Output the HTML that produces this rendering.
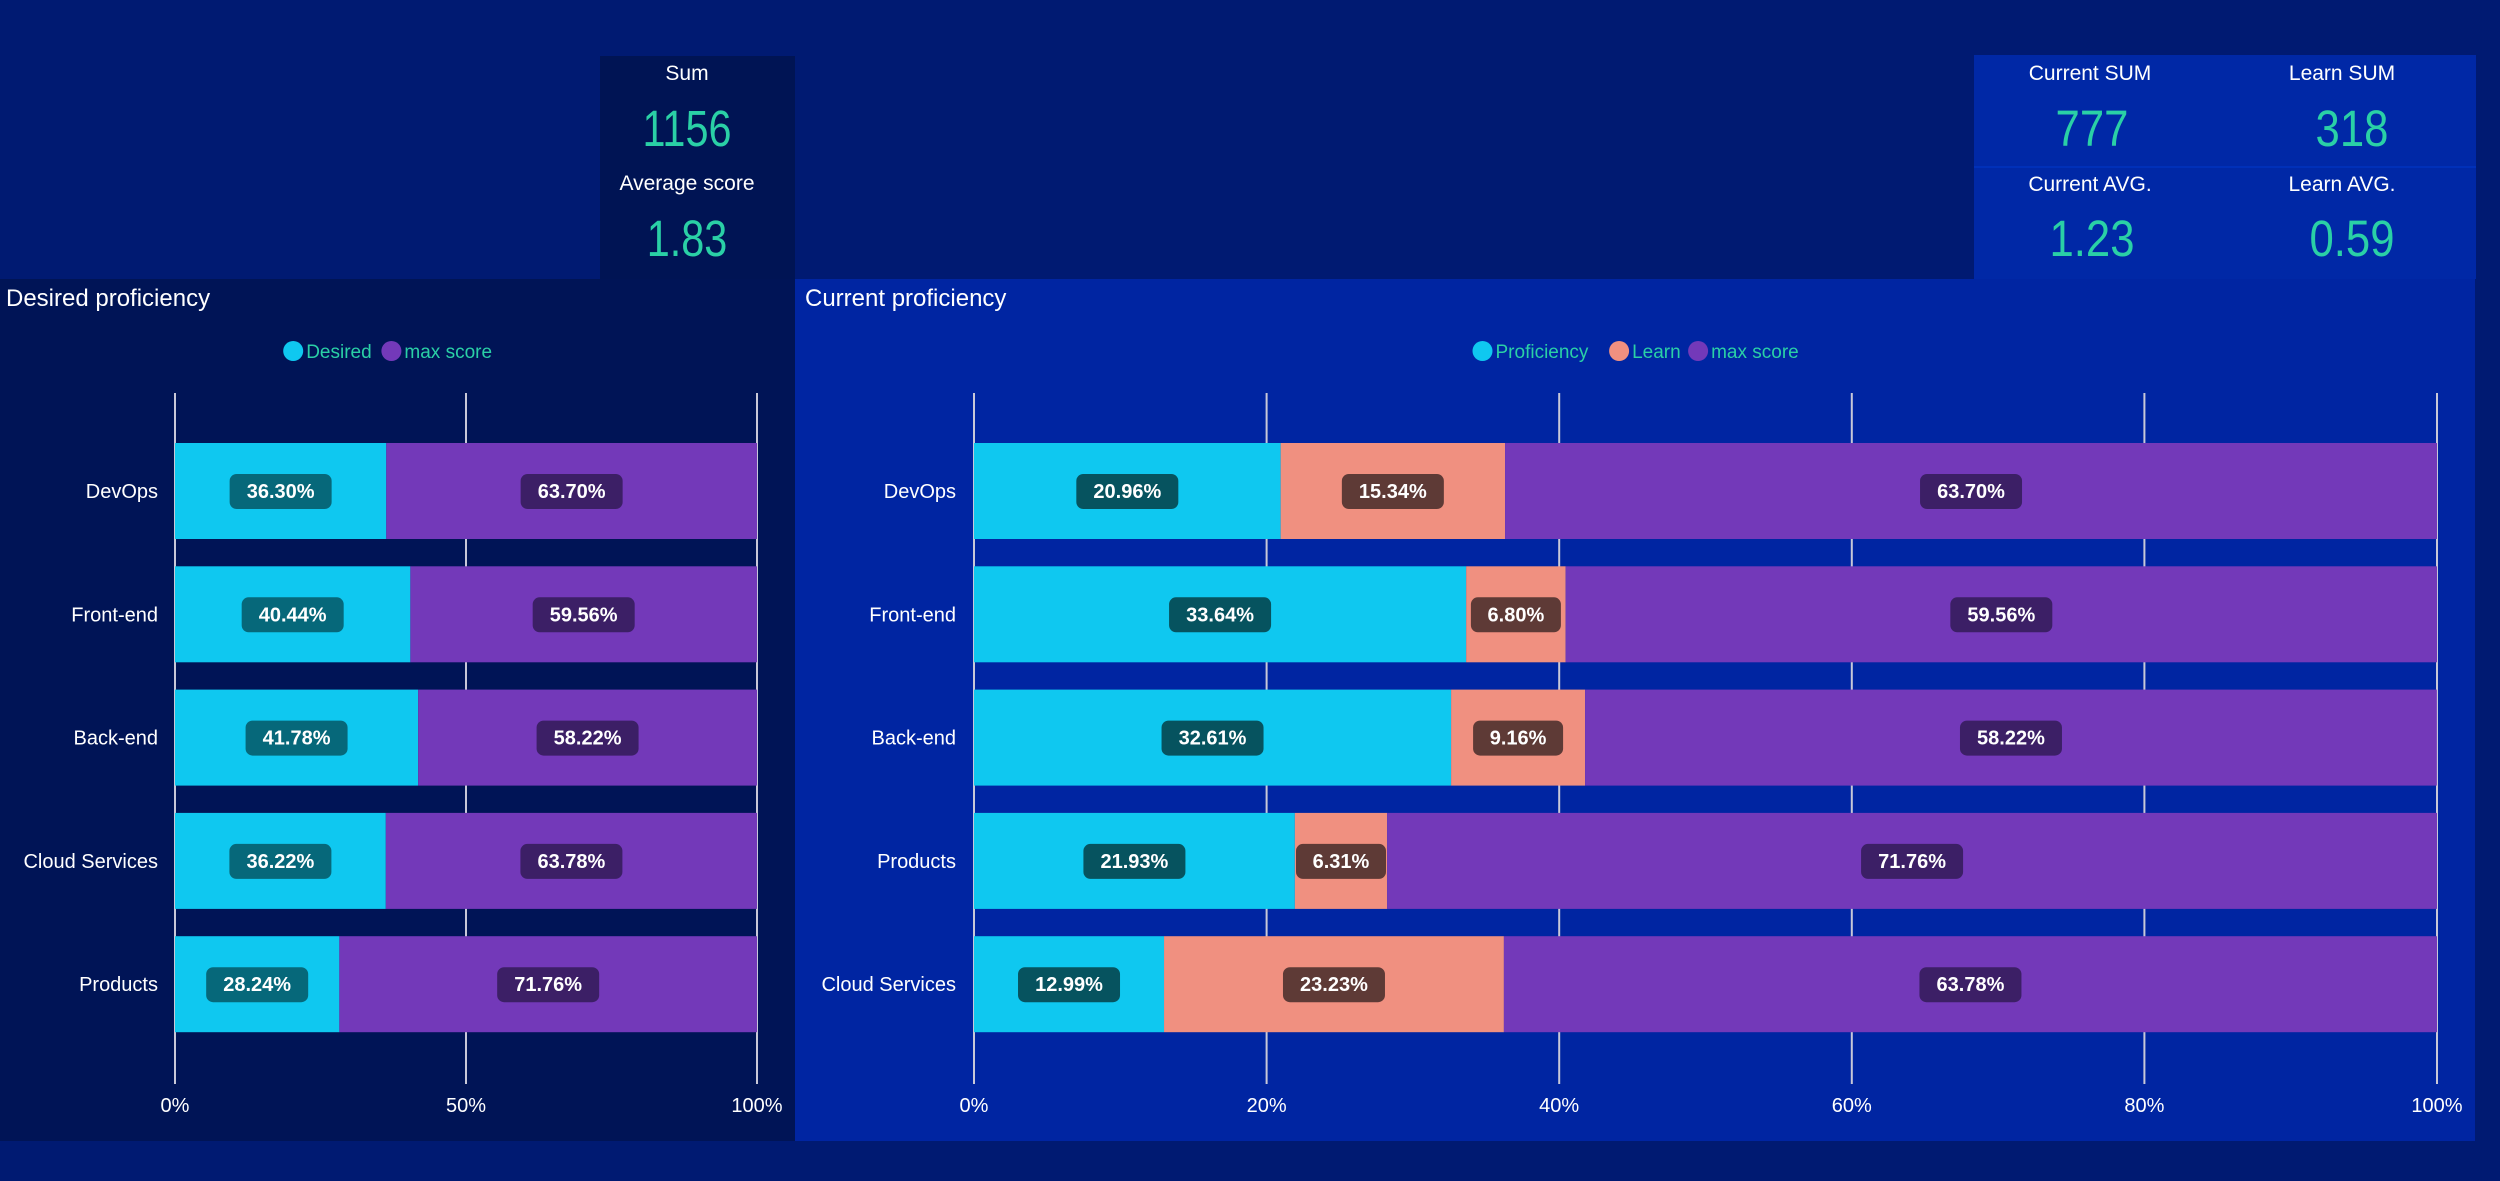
<!DOCTYPE html>
<html><head><meta charset="utf-8"><style>
html,body{margin:0;padding:0;background:#001a72;width:2500px;height:1181px;overflow:hidden;font-family:"Liberation Sans",sans-serif}
</style></head><body>
<svg id="s" width="2500" height="1181" xmlns="http://www.w3.org/2000/svg">
<rect x="0" y="0" width="2500" height="1181" fill="#001a72"/>
<g>
<rect x="600" y="56" width="195" height="224" fill="#001454"/>
<text x="687" y="80" fill="#fff" font-size="21" text-anchor="middle">Sum</text>
<text x="687" y="146" fill="#2ad0a6" font-size="46" text-anchor="middle" transform="translate(687,146) scale(0.9,1.1) translate(-687,-146)">1156</text>
<text x="687" y="190" fill="#fff" font-size="21" text-anchor="middle">Average score</text>
<text x="687" y="256" fill="#2ad0a6" font-size="46" text-anchor="middle" transform="translate(687,256) scale(0.9,1.1) translate(-687,-256)">1.83</text>
</g>
<g>
<rect x="1974" y="55" width="502" height="224" fill="#0028a6"/>
<rect x="1974" y="166" width="502" height="2" fill="#0030b8"/>
<text x="2090" y="80" fill="#fff" font-size="21" text-anchor="middle">Current SUM</text>
<text x="2092" y="146" fill="#2ad0a6" font-size="46" text-anchor="middle" transform="translate(2092,146) scale(0.95,1.1) translate(-2092,-146)">777</text>
<text x="2342" y="80" fill="#fff" font-size="21" text-anchor="middle">Learn SUM</text>
<text x="2352" y="146" fill="#2ad0a6" font-size="46" text-anchor="middle" transform="translate(2352,146) scale(0.95,1.1) translate(-2352,-146)">318</text>
<text x="2090" y="191" fill="#fff" font-size="21" text-anchor="middle">Current AVG.</text>
<text x="2092" y="256" fill="#2ad0a6" font-size="46" text-anchor="middle" transform="translate(2092,256) scale(0.95,1.1) translate(-2092,-256)">1.23</text>
<text x="2342" y="191" fill="#fff" font-size="21" text-anchor="middle">Learn AVG.</text>
<text x="2352" y="256" fill="#2ad0a6" font-size="46" text-anchor="middle" transform="translate(2352,256) scale(0.95,1.1) translate(-2352,-256)">0.59</text>
</g>
<rect x="0" y="279" width="795" height="862" fill="#001456"/>
<rect x="795" y="279" width="1680" height="862" fill="#0025a2"/>
<text x="6" y="306" fill="#fff" font-size="24">Desired proficiency</text>
<text x="805" y="306" fill="#fff" font-size="24">Current proficiency</text>
<g id="g1"></g><g id="g2"></g>
</svg>
<script>
const cats1=["DevOps","Front-end","Back-end","Cloud Services","Products"];
const desired=[36.30,40.44,41.78,36.22,28.24];
const maxScore1=[63.70,59.56,58.22,63.78,71.76];
const ticks1=[0,50,100];
const cats2=["DevOps","Front-end","Back-end","Products","Cloud Services"];
const proficiency=[20.96,33.64,32.61,21.93,12.99];
const learn=[15.34,6.80,9.16,6.31,23.23];
const maxScore2=[63.70,59.56,58.22,71.76,63.78];
const ticks2=[0,20,40,60,80,100];
const NS="http://www.w3.org/2000/svg";
function mk(p,t,a){const e=document.createElementNS(NS,t);for(const k in a)e.setAttribute(k,a[k]);p.appendChild(e);return e;}
function chart(g,cats,series,colors,lblColors,names,ticks,x0,x1,labelX,legendCx){
  const xs=v=>x0+(x1-x0)*v/100;
  const yTop=443,pitch=123.3,bh=96;
  ticks.forEach(t=>{
    const l=mk(g,'line',{x1:xs(t),x2:xs(t),y1:393,y2:1084,stroke:'#c8c8d8','stroke-width':2});
    
    
    const tx=mk(g,'text',{x:xs(t),y:1112,fill:'#fff','font-size':20,'text-anchor':'middle'});
    tx.textContent=t+'%';
    
    
  });
  cats.forEach((c,i)=>{
    const y=yTop+i*pitch;
    const ct=mk(g,'text',{x:labelX,y:y+bh/2+7,fill:'#fff','font-size':20,'text-anchor':'end'});
    ct.textContent=c;
    
    
    let acc=0;
    series.forEach((s,j)=>{
      const v=s[i];const a=xs(acc),b=xs(acc+v);acc+=v;
      const r=mk(g,'rect',{x:a,y:y,width:b-a,height:bh,fill:colors[j]});
      
      
      const txt=v.toFixed(2)+'%';const w=txt.length*12+30;const cx=(a+b)/2;
      const lb=mk(g,'rect',{x:cx-w/2,y:y+bh/2-17,width:w,height:35,rx:7,fill:lblColors[j]});
      
      
      const lt=mk(g,'text',{x:cx,y:y+bh/2+7,fill:'#fff','font-size':20,'font-weight':'bold','text-anchor':'middle'});
      lt.textContent=txt;
      
      
    });
  });
  let widths=names.map(n=>n.length*9.6+31);
  let tot=widths.reduce((a,b)=>a+b,0);let lx=legendCx-tot/2;
  names.forEach((n,j)=>{
    const d=mk(g,'circle',{cx:lx+10,cy:351,r:10,fill:colors[j]});
    
    
    const t=mk(g,'text',{x:lx+23,y:358,fill:'#2ad0a6','font-size':19});
    t.textContent=n;
    
    
    lx+=widths[j];
  });
}
chart(document.getElementById('g1'),cats1,[desired,maxScore1],['#0fc8f0','#7339b9'],['#06687a','#3c1f66'],['Desired','max score'],ticks1,175,757,158,391);
chart(document.getElementById('g2'),cats2,[proficiency,learn,maxScore2],['#0fc8f0','#f09080','#7339b9'],['#06535f','#5e3a36','#3c1f66'],['Proficiency','Learn','max score'],ticks2,974,2437,956,1639);
</script>
</body></html>
